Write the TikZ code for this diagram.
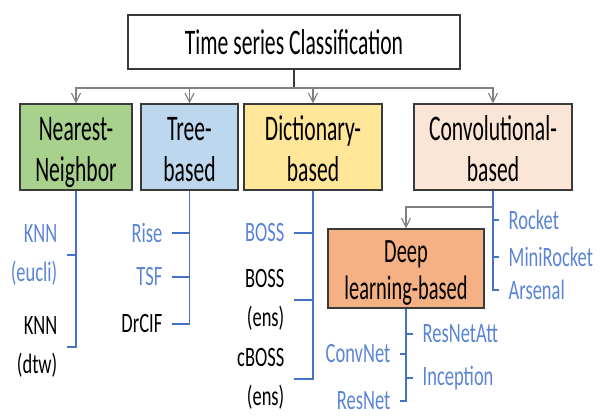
\documentclass[tikz,border=0pt]{standalone}
\usepackage{fontspec}
\setmainfont{Carlito}
\newfontfamily\boxfont{Carlito}[FakeStretch=0.6]
\newfontfamily\labelfont{Carlito}[FakeStretch=0.66]
\usetikzlibrary{arrows.meta}

\definecolor{nnfill}{HTML}{A9D18E}
\definecolor{treefill}{HTML}{BDD7EE}
\definecolor{dictfill}{HTML}{FFE699}
\definecolor{convfill}{HTML}{FBE5D6}
\definecolor{deepfill}{HTML}{F4B183}
\definecolor{boxline}{HTML}{3A3A3A}
\definecolor{arrowgray}{HTML}{808080}
\definecolor{spineblue}{HTML}{4472C4}
\definecolor{labelblue}{HTML}{5B84D6}

% struts so both text lines sit at the same height in every box
\newcommand{\toppad}[1]{\rule{0pt}{#1}}
\newcommand{\botpad}[1]{\rule[-#1]{0pt}{#1}}

\tikzset{
  catbox/.style={draw=boxline, line width=1.4pt, align=center, inner sep=0pt,
    font=\boxfont\fontsize{36}{41}\selectfont},
  grayarrow/.style={draw=arrowgray, line width=1.1pt, -{Straight Barb[length=9pt,width=9pt]}},
  stem/.style={draw=boxline, line width=1.1pt},
  spine/.style={draw=spineblue, line width=1.5pt},
  leftlabel/.style={anchor=east, inner xsep=9.5pt, inner ysep=0pt, align=right,
    font=\labelfont\fontsize{28}{39}\selectfont},
  rightlabel/.style={anchor=west, inner xsep=9.5pt, inner ysep=0pt, align=left,
    font=\labelfont\fontsize{28}{39}\selectfont}
}

\begin{document}
\begin{tikzpicture}[x=1pt, y=-1pt]
  \useasboundingbox (0,0) rectangle (606,417);

  % Root
  \node[catbox, fill=white, minimum width=332pt, minimum height=54pt] (root) at (294,42)
    {Time series Classification};

  % Method families
  \node[catbox, fill=nnfill, minimum width=112pt, minimum height=80pt] (nn) at (76,147)
    {\toppad{37pt}Nearest-\\Neighbor\botpad{8pt}};
  \node[catbox, fill=treefill, minimum width=97pt, minimum height=80pt] (tree) at (189.5,147)
    {\toppad{37pt}Tree-\\based\botpad{8pt}};
  \node[catbox, fill=dictfill, minimum width=138pt, minimum height=80pt] (dict) at (313,147)
    {\toppad{37pt}Dictionary-\\based\botpad{8pt}};
  \node[catbox, fill=convfill, minimum width=158pt, minimum height=80pt] (conv) at (493,147)
    {\toppad{37pt}Convolutional-\\based\botpad{8pt}};
  \node[catbox, fill=deepfill, minimum width=156pt, minimum height=79pt,
    font=\boxfont\fontsize{34}{38}\selectfont] (deep) at (406,268.5)
    {\toppad{33pt}Deep\\learning-based\botpad{8pt}};

  % Root to families
  \coordinate (split) at (root.south |- 0,88);
  \draw[stem] (root.south) -- (split);
  \foreach \b in {nn,tree,dict,conv}
    \draw[grayarrow] (split) -| (\b.north);

  % Convolutional to deep learning
  \coordinate (fork) at (conv.south |- 0,207);
  \draw[grayarrow] (fork) -| (deep.north);

  % Nearest-Neighbor methods
  \foreach \n/\y/\c/\t in {knneu/255/labelblue/{KNN\\(eucli)}, knndtw/347/black/{KNN\\(dtw)}} {
    \node[leftlabel, text=\c] (\n) at (67,\y) {\t};
    \draw[spine] (\n.east) -- (\n.east -| nn.south);
  }
  \draw[spine] (nn.south) |- (knndtw.east);

  % Tree-based methods
  \foreach \n/\y/\c/\t in {rise/233/labelblue/Rise, tsf/277/labelblue/TSF, drcif/324/black/DrCIF} {
    \node[leftlabel, text=\c] (\n) at (172,\y) {\t};
    \draw[spine] (\n.east) -- (\n.east -| tree.south);
  }
  \draw[spine] (tree.south) |- (drcif.east);

  % Dictionary-based methods
  \foreach \n/\y/\c/\t in {boss/233/labelblue/BOSS, bossens/300/black/{BOSS\\(ens)}, cboss/379/black/{cBOSS\\(ens)}} {
    \node[leftlabel, text=\c] (\n) at (294,\y) {\t};
    \draw[spine] (\n.east) -- (\n.east -| dict.south);
  }
  \draw[spine] (dict.south) |- (cboss.east);

  % Convolutional methods
  \foreach \n/\y/\t in {rocket/220/Rocket, minirocket/257/MiniRocket, arsenal/290/Arsenal} {
    \node[rightlabel, text=labelblue] (\n) at (499,\y) {\t};
    \draw[spine] (\n.west) -- (\n.west -| conv.south);
  }
  \draw[spine] (conv.south) |- (arsenal.west);

  % Deep learning methods
  \foreach \n/\y/\t in {resnetatt/334/ResNetAtt, inception/378/Inception} {
    \node[rightlabel, text=labelblue] (\n) at (413,\y) {\t};
    \draw[spine] (\n.west) -- (\n.west -| deep.south);
  }
  \foreach \n/\y/\t in {convnet/354/ConvNet, resnet/401/ResNet} {
    \node[leftlabel, text=labelblue] (\n) at (400,\y) {\t};
    \draw[spine] (\n.east) -- (\n.east -| deep.south);
  }
  \draw[spine] (deep.south) |- (resnet.east);
\end{tikzpicture}
\end{document}
